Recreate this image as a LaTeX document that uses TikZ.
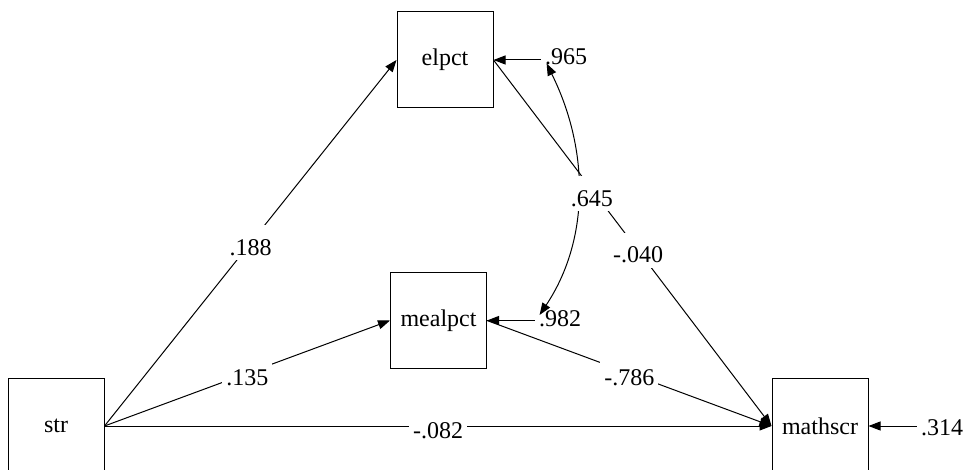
\documentclass[tikz,border=0pt]{standalone}
\usepackage{fontspec}
\setmainfont{Liberation Serif}
\usetikzlibrary{arrows.meta}
\tikzset{
  var/.style={rectangle,draw,line width=0.5pt,minimum width=48pt,minimum height=48pt,inner sep=0pt},
  err/.style={inner sep=2pt},
  reg/.style={-{Triangle[length=6pt,width=4.5pt]},line width=0.5pt},
  cov/.style={{Triangle[length=6pt,width=4.5pt]}-{Triangle[length=6pt,width=4.5pt]},line width=0.5pt},
  coef/.style={fill=white,inner xsep=2pt,inner ysep=0pt,text height=15pt,text depth=2.5pt},
}
\begin{document}
\begin{tikzpicture}[x=0.5pt,y=-0.5pt,font=\fontsize{12}{14}\selectfont]
  \useasboundingbox (0,0) rectangle (964,470);
  % observed variables
  \node[var] (elpct)   at (445,60)    {elpct};
  \node[var] (mealpct) at (438.5,320.5) {mealpct};
  \node[var] (str)     at (56,426)    {str};
  \node[var] (mathscr) at (820,426)   {mathscr};
  % error variances
  \node[err] (e1) at (566,57)  {.965};
  \node[err] (e2) at (560,319) {.982};
  \node[err] (e3) at (942,428) {.314};
  % structural paths
  \draw[reg] (str.east) -- node[coef]{.188} (elpct.west);
  \draw[reg] (str.east) -- node[coef]{.135} (mealpct.west);
  \draw[reg] (str.east) -- node[coef]{-.082} (mathscr.west);
  \draw[reg] (elpct.east) -- node[coef,pos=0.52]{-.040} (mathscr.west);
  \draw[reg] (mealpct.east) -- node[coef]{-.786} (mathscr.west);
  \draw[reg] (e1.west |- elpct.east) -- (elpct.east);
  \draw[reg] (e2.west |- mealpct.east) -- (mealpct.east);
  \draw[reg] (e3.west |- mathscr.east) -- (mathscr.east);
  % error covariance
  \draw[cov] ([xshift=3pt,yshift=3pt]e1.south west)
    .. controls +(43,87) and +(50,-75) .. node[coef,pos=0.5,xshift=7pt]{.645}
    ([xshift=2.5pt,yshift=-4.25pt]e2.north west);
\end{tikzpicture}
\end{document}
